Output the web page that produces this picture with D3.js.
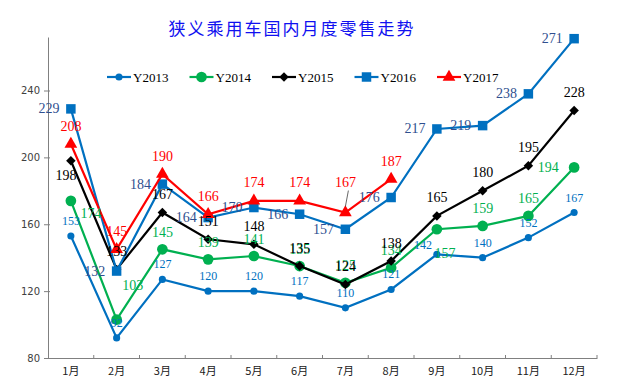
<!DOCTYPE html>
<html>
<head>
<meta charset="utf-8">
<script src="https://cdn.jsdelivr.net/npm/d3@7"></script>
<style>
  body { margin: 0; background: #fff; }
  text { font-family: "Liberation Serif", "Noto Sans CJK SC", serif; }
</style>
</head>
<body>
<div id="chart"></div>
<script>
// month categories
const months = ['1月', '2月', '3月', '4月', '5月', '6月', '7月', '8月', '9月', '10月', '11月', '12月'];
const yTicks = [80, 120, 160, 200, 240];

// monthly retail volumes
const y2013 = [153, 92, 127, 120, 120, 117, 110, 121, 142, 140, 152, 167];
const y2014 = [174, 103, 145, 139, 141, 135, 125, 134, 157, 159, 165, 194];
const y2015 = [198, 133, 167, 151, 148, 135, 124, 138, 165, 180, 195, 228];
const y2016 = [229, 132, 184, 164, 170, 166, 157, 176, 217, 219, 238, 271];
const y2017 = [208, 145, 190, 166, 174, 174, 167, 187];

const series = [
  { name: 'Y2013', values: y2013, color: '#0070C0', labelColor: '#0070C0', marker: 'smallCircle', fontSize: 12,
    offset: [0, -15], overrides: { 8: [-14, -9] } },
  { name: 'Y2014', values: y2014, color: '#00B050', labelColor: '#00B050', marker: 'circle', fontSize: 14,
    offset: [0, -17], overrides: { 0: [20, 13], 1: [16, -34], 8: [8, 24], 11: [-26, 0] } },
  { name: 'Y2015', values: y2015, color: '#000000', labelColor: '#000000', marker: 'diamond', fontSize: 14,
    offset: [0, -18], overrides: { 0: [-5, 15] } },
  { name: 'Y2016', values: y2016, color: '#0070C0', labelColor: '#2F4F8F', marker: 'square', fontSize: 14,
    offset: [-22, 0], overrides: {} },
  { name: 'Y2017', values: y2017, color: '#FF0000', labelColor: '#FF0000', marker: 'triangle', fontSize: 14,
    offset: [0, -18], overrides: { 6: [0, -30] }, leader: [6] }
];

const width = 619, height = 388;
const margin = { top: 37, right: 22, bottom: 30, left: 48 };

const svg = d3.select('#chart').append('svg')
  .attr('width', width)
  .attr('height', height);

const x = d3.scaleBand()
  .domain(months)
  .range([margin.left, width - margin.right]);

const y = d3.scaleLinear()
  .domain([80, 272])
  .range([height - margin.bottom, margin.top]);

const cx = (i) => x(months[i]) + x.bandwidth() / 2;

// Title
svg.append('text')
  .attr('x', 292)
  .attr('y', 27)
  .attr('text-anchor', 'middle')
  .attr('dominant-baseline', 'central')
  .attr('fill', '#1010F0')
  .style('font-family', '"Noto Sans CJK SC", sans-serif')
  .style('font-size', '17px')
  .style('letter-spacing', '2px')
  .text('狭义乘用车国内月度零售走势');

// Y axis
const yAxis = svg.append('g')
  .attr('transform', `translate(${margin.left},0)`)
  .call(d3.axisLeft(y).tickValues(yTicks).tickSize(4).tickSizeOuter(0));
yAxis.select('.domain').attr('stroke', '#808080');
yAxis.selectAll('.tick line').attr('stroke', '#808080').attr('x2', 2).attr('x1', -4);
yAxis.selectAll('.tick text')
  .attr('x', -8)
  .attr('fill', '#404040')
  .style('font-family', '"DejaVu Sans", sans-serif')
  .style('font-size', '10px');

// X axis
const xAxis = svg.append('g')
  .attr('transform', `translate(0,${height - margin.bottom})`)
  .call(d3.axisBottom(x).tickSize(0).tickSizeOuter(0));
xAxis.select('.domain').attr('stroke', '#808080');
xAxis.selectAll('.tick text')
  .attr('dy', '1.3em')
  .attr('fill', '#202020')
  .style('font-family', '"Noto Sans CJK SC", sans-serif')
  .style('font-size', '11px');
// tick marks on category boundaries
xAxis.selectAll('.boundary')
  .data(months)
  .enter().append('line')
  .attr('x1', d => x(d) + x.bandwidth())
  .attr('x2', d => x(d) + x.bandwidth())
  .attr('y1', 0)
  .attr('y2', -3)
  .attr('stroke', '#808080');

// marker shapes
const symbolFor = {
  smallCircle: { path: d3.symbol().type(d3.symbolCircle).size(40), rotate: 0 },
  circle: { path: d3.symbol().type(d3.symbolCircle).size(90), rotate: 0 },
  diamond: { path: d3.symbol().type(d3.symbolSquare).size(45), rotate: 45 },
  square: { path: d3.symbol().type(d3.symbolSquare).size(90), rotate: 0 },
  triangle: { path: d3.symbol().type(d3.symbolTriangle).size(70), rotate: 0 }
};

const line = d3.line()
  .x((d, i) => cx(i))
  .y(d => y(d));

// Lines and markers
series.forEach(s => {
  const g = svg.append('g');
  const sym = symbolFor[s.marker];
  g.append('path')
    .datum(s.values)
    .attr('fill', 'none')
    .attr('stroke', s.color)
    .attr('stroke-width', 2.2)
    .attr('d', line);

  g.selectAll('.marker')
    .data(s.values)
    .enter().append('path')
    .attr('transform', (d, i) => `translate(${cx(i)},${y(d)}) rotate(${sym.rotate})`)
    .attr('d', sym.path())
    .attr('fill', s.color);
});

// Data labels
series.forEach(s => {
  const g = svg.append('g');
  s.values.forEach((v, i) => {
    const off = s.overrides[i] || s.offset;
    const px = cx(i), py = y(v);
    g.append('text')
      .attr('x', px + off[0])
      .attr('y', py + off[1])
      .attr('text-anchor', 'middle')
      .attr('dominant-baseline', 'central')
      .attr('fill', s.labelColor)
      .style('font-size', s.fontSize + 'px')
      .text(v);
    if (s.leader && s.leader.includes(i)) {
      g.append('line')
        .attr('x1', px + 3)
        .attr('y1', py + off[1] + 8)
        .attr('x2', px)
        .attr('y2', py - 6)
        .attr('stroke', '#404040')
        .attr('stroke-width', 0.8);
    }
  });
});

// Legend
const legend = svg.append('g')
  .attr('transform', 'translate(107,77)');
series.forEach((s, i) => {
  const sym = symbolFor[s.marker];
  const item = legend.append('g')
    .attr('transform', `translate(${i * 82.5},0)`);
  item.append('line')
    .attr('x1', 0)
    .attr('x2', 24)
    .attr('stroke', s.color)
    .attr('stroke-width', 2.2);
  item.append('path')
    .attr('transform', `translate(12,0) rotate(${sym.rotate})`)
    .attr('d', sym.path())
    .attr('fill', s.color);
  item.append('text')
    .attr('x', 26)
    .attr('dominant-baseline', 'central')
    .attr('fill', '#000')
    .style('font-size', '13px')
    .text(s.name);
});
</script>
</body>
</html>
